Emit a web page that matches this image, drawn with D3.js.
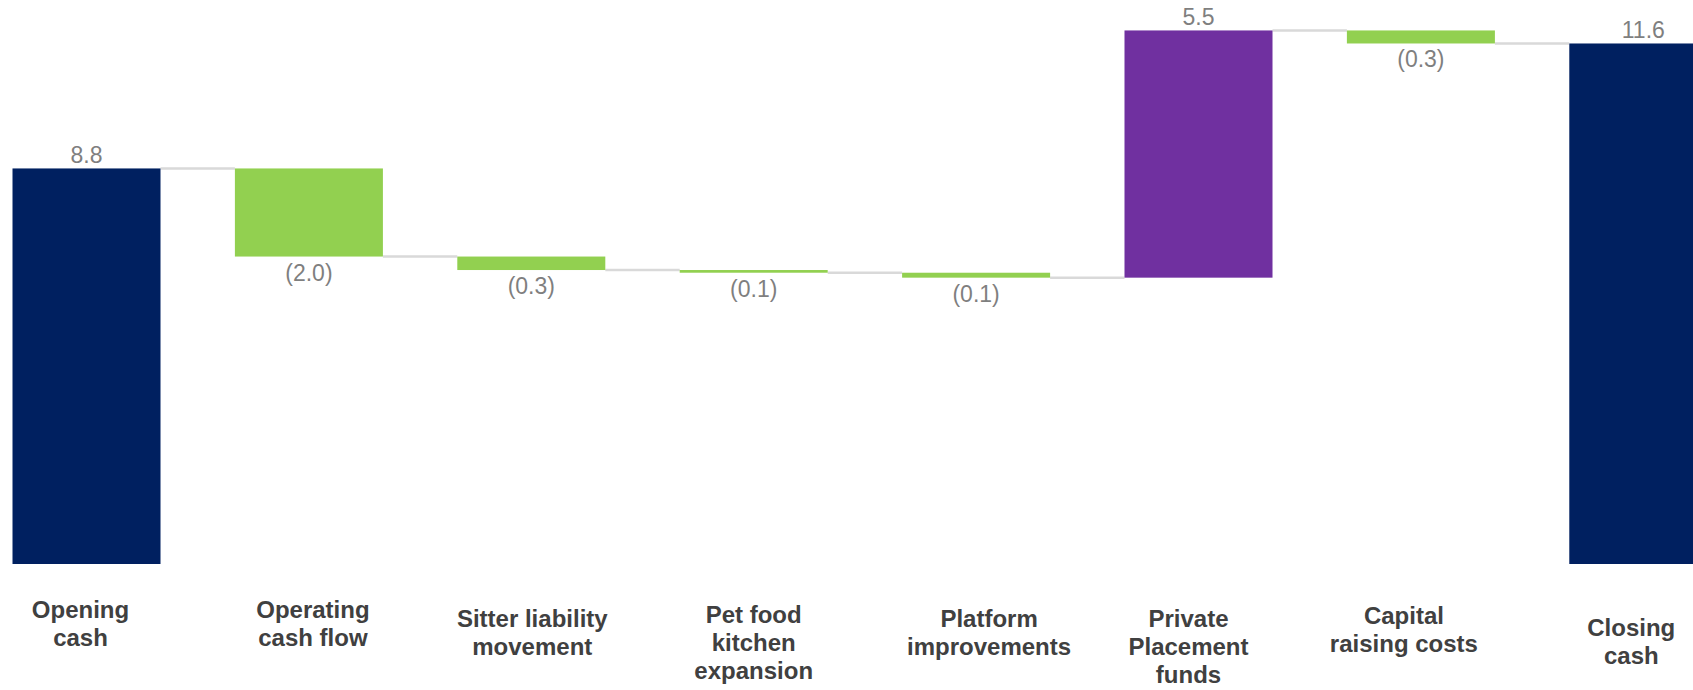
<!DOCTYPE html>
<html>
<head>
<meta charset="utf-8">
<script src="https://cdn.jsdelivr.net/npm/d3@7"></script>
<style>
  html, body { margin: 0; padding: 0; background: #ffffff; overflow: hidden; }
  svg { display: block; }
</style>
</head>
<body>
<svg id="chart" width="1693" height="690"></svg>
<script>
// Cash bridge: opening cash, movements, closing cash ($m)
const categories = [
  ["Opening", "cash"],
  ["Operating", "cash flow"],
  ["Sitter liability", "movement"],
  ["Pet food", "kitchen", "expansion"],
  ["Platform", "improvements"],
  ["Private", "Placement", "funds"],
  ["Capital", "raising costs"],
  ["Closing", "cash"]
];
const openingCash = 8.8;
const movements = [-1.96, -0.30, -0.06, -0.11, 5.50, -0.29];

// Label placement tweaks (x offset from bar centre, first-line baseline)
const labelDx = [-6, 4, 1, 0, 13, -10, -17, -12];
const labelY = [618, 618, 627, 623, 627, 627, 624, 636];

const colors = { total: "#002060", down: "#92D050", up: "#7030A0" };

// Build the waterfall steps from the running total
let running = openingCash;
const steps = [{ i: 0, start: 0, end: openingCash, value: openingCash, kind: "total" }];
movements.forEach((m, k) => {
  steps.push({ i: k + 1, start: running, end: running + m, value: m, kind: "delta" });
  running += m;
});
steps.push({ i: 7, start: 0, end: running, value: running, kind: "total" });

const svg = d3.select("#chart");

const x = d3.scaleBand()
  .domain(d3.range(categories.length))
  .range([12.5, 1717.3])
  .paddingInner(0.3345)
  .paddingOuter(0);

const y = d3.scaleLinear()
  .domain([0, 12.5])
  .range([564, 564 - 12.5 * 44.95]);

const fmt = d3.format(".1f");
const labelText = d => d.value < 0 ? "(" + fmt(-d.value) + ")" : fmt(d.value);
const fill = d => d.kind === "total" ? colors.total : (d.value < 0 ? colors.down : colors.up);

// Connectors between consecutive bars at the running level
const links = steps.slice(0, -1).map((d, k) => ({ from: k, to: k + 1, level: d.end }));
svg.append("g")
  .selectAll("line")
  .data(links)
  .join("line")
  .attr("x1", d => x(d.from) + x.bandwidth())
  .attr("x2", d => x(d.to))
  .attr("y1", d => y(d.level))
  .attr("y2", d => y(d.level))
  .attr("stroke", "#d9d9d9")
  .attr("stroke-width", 2.5);

// Bars
svg.append("g")
  .selectAll("rect")
  .data(steps)
  .join("rect")
  .attr("x", d => x(d.i))
  .attr("width", x.bandwidth())
  .attr("y", d => y(Math.max(d.start, d.end)))
  .attr("height", d => Math.abs(y(d.start) - y(d.end)))
  .attr("fill", fill);

// Value labels
svg.append("g")
  .selectAll("text")
  .data(steps)
  .join("text")
  .attr("x", d => x(d.i) + x.bandwidth() / 2)
  .attr("y", d => d.value < 0 ? y(Math.min(d.start, d.end)) + 24 : y(Math.max(d.start, d.end)) - 5.5)
  .attr("text-anchor", "middle")
  .attr("font-family", "'Liberation Sans', Arial, sans-serif")
  .attr("font-size", 23)
  .attr("fill", "#7f7f7f")
  .text(labelText);

// Category labels
const cat = svg.append("g")
  .selectAll("text")
  .data(categories)
  .join("text")
  .attr("x", (d, i) => x(i) + x.bandwidth() / 2 + labelDx[i])
  .attr("y", (d, i) => labelY[i])
  .attr("text-anchor", "middle")
  .attr("font-family", "'Liberation Sans', Arial, sans-serif")
  .attr("font-weight", "bold")
  .attr("font-size", 24)
  .attr("fill", "#404040");

cat.selectAll("tspan")
  .data(d => d)
  .join("tspan")
  .attr("x", function () { return d3.select(this.parentNode).attr("x"); })
  .attr("dy", (d, k) => k === 0 ? 0 : 28)
  .text(d => d);
</script>
</body>
</html>
